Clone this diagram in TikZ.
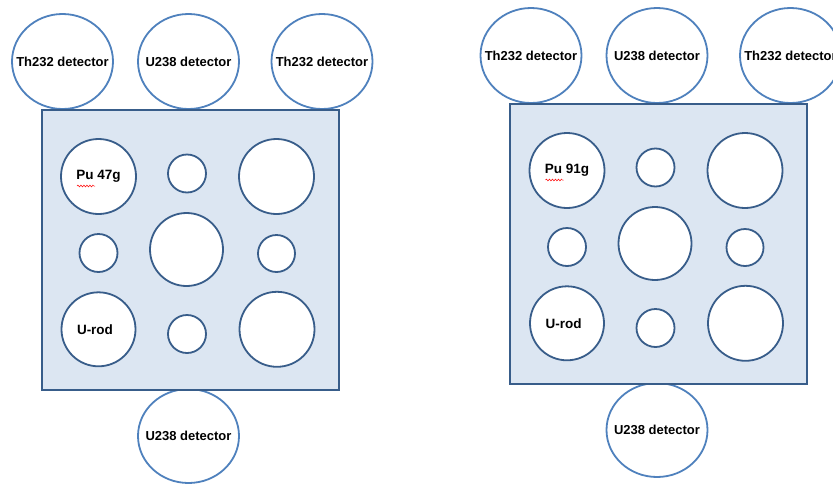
\documentclass[tikz,border=0pt]{standalone}
\usepackage{fontspec}
\setmainfont{Liberation Sans}
\usetikzlibrary{shapes.geometric,decorations.pathmorphing}
\definecolor{detline}{HTML}{4F81BD}
\definecolor{boxline}{HTML}{385D8A}
\definecolor{boxfill}{HTML}{DCE6F2}
\tikzset{
  labfont/.style={font=\bfseries\fontsize{13}{15}\selectfont},
  detector/.style={ellipse, draw=detline, line width=1.8pt, fill=white,
    minimum width=101pt, minimum height=95pt, inner sep=0pt,
    label={[labfont, inner sep=0pt]center:#1}},
  block/.style={draw=boxline, line width=1.8pt, fill=boxfill},
  hole/.style={circle, draw=boxline, line width=1.8pt, fill=white, inner sep=0pt,
    font=\bfseries\fontsize{13.5}{15}\selectfont},
  bighole/.style={hole, minimum size=75pt},
  smallhole/.style={hole, minimum size=38pt},
  wavy/.style={draw=red, line width=0.5pt, decorate,
    decoration={snake, amplitude=0.9pt, segment length=3pt}}
}
% one assembly: three detectors above, one below, the block with its nine holes
\newcommand{\assembly}[1]{%
  \node[detector={Th232 detector}] (d1) at (62.5,61.5) {};
  \node[detector={U238 detector}] (d2) at (188.5,61.5) {};
  \node[detector={Th232 detector}] (d3) at (322,61.5) {};
  \node[detector={U238 detector}, minimum height=94pt] (d4) at (188.5,436) {};
  \node[block, rectangle, minimum width=297pt, minimum height=279.7pt, anchor=north west]
    (blk) at (40.7,109.3) {};
  \node[bighole] (pu) at (98.5,176.5) {Pu #1};
  \node[smallhole] (h12) at (187,173.5) {};
  \node[bighole] (h13) at (276.5,176.5) {};
  \node[smallhole] (h21) at (98.5,253) {};
  \node[hole, minimum size=73pt] (h22) at (186.5,249.5) {};
  \node[smallhole, minimum size=37pt] (h23) at (276.5,253.5) {};
  \node[hole, minimum size=74pt] (urod) at (98.5,329.3) {\hspace*{-7pt}U-rod};
  \node[smallhole] (h32) at (187,334) {};
  \node[bighole] (h33) at (277,329.3) {};
  \draw[wavy] ([shift={(-21.5,9.5)}]pu.center) -- ([shift={(-3.5,9.5)}]pu.center);
}
\begin{document}
\begin{tikzpicture}[x=1pt, y=-1pt]
  \useasboundingbox (0,0) rectangle (833,485);
  \clip (0,0) rectangle (833,485);
  \begin{scope}[name prefix=L-]
    \assembly{47g}
  \end{scope}
  \begin{scope}[name prefix=R-, shift={(468.5,-6)}]
    \assembly{91g}
  \end{scope}
\end{tikzpicture}
\end{document}
